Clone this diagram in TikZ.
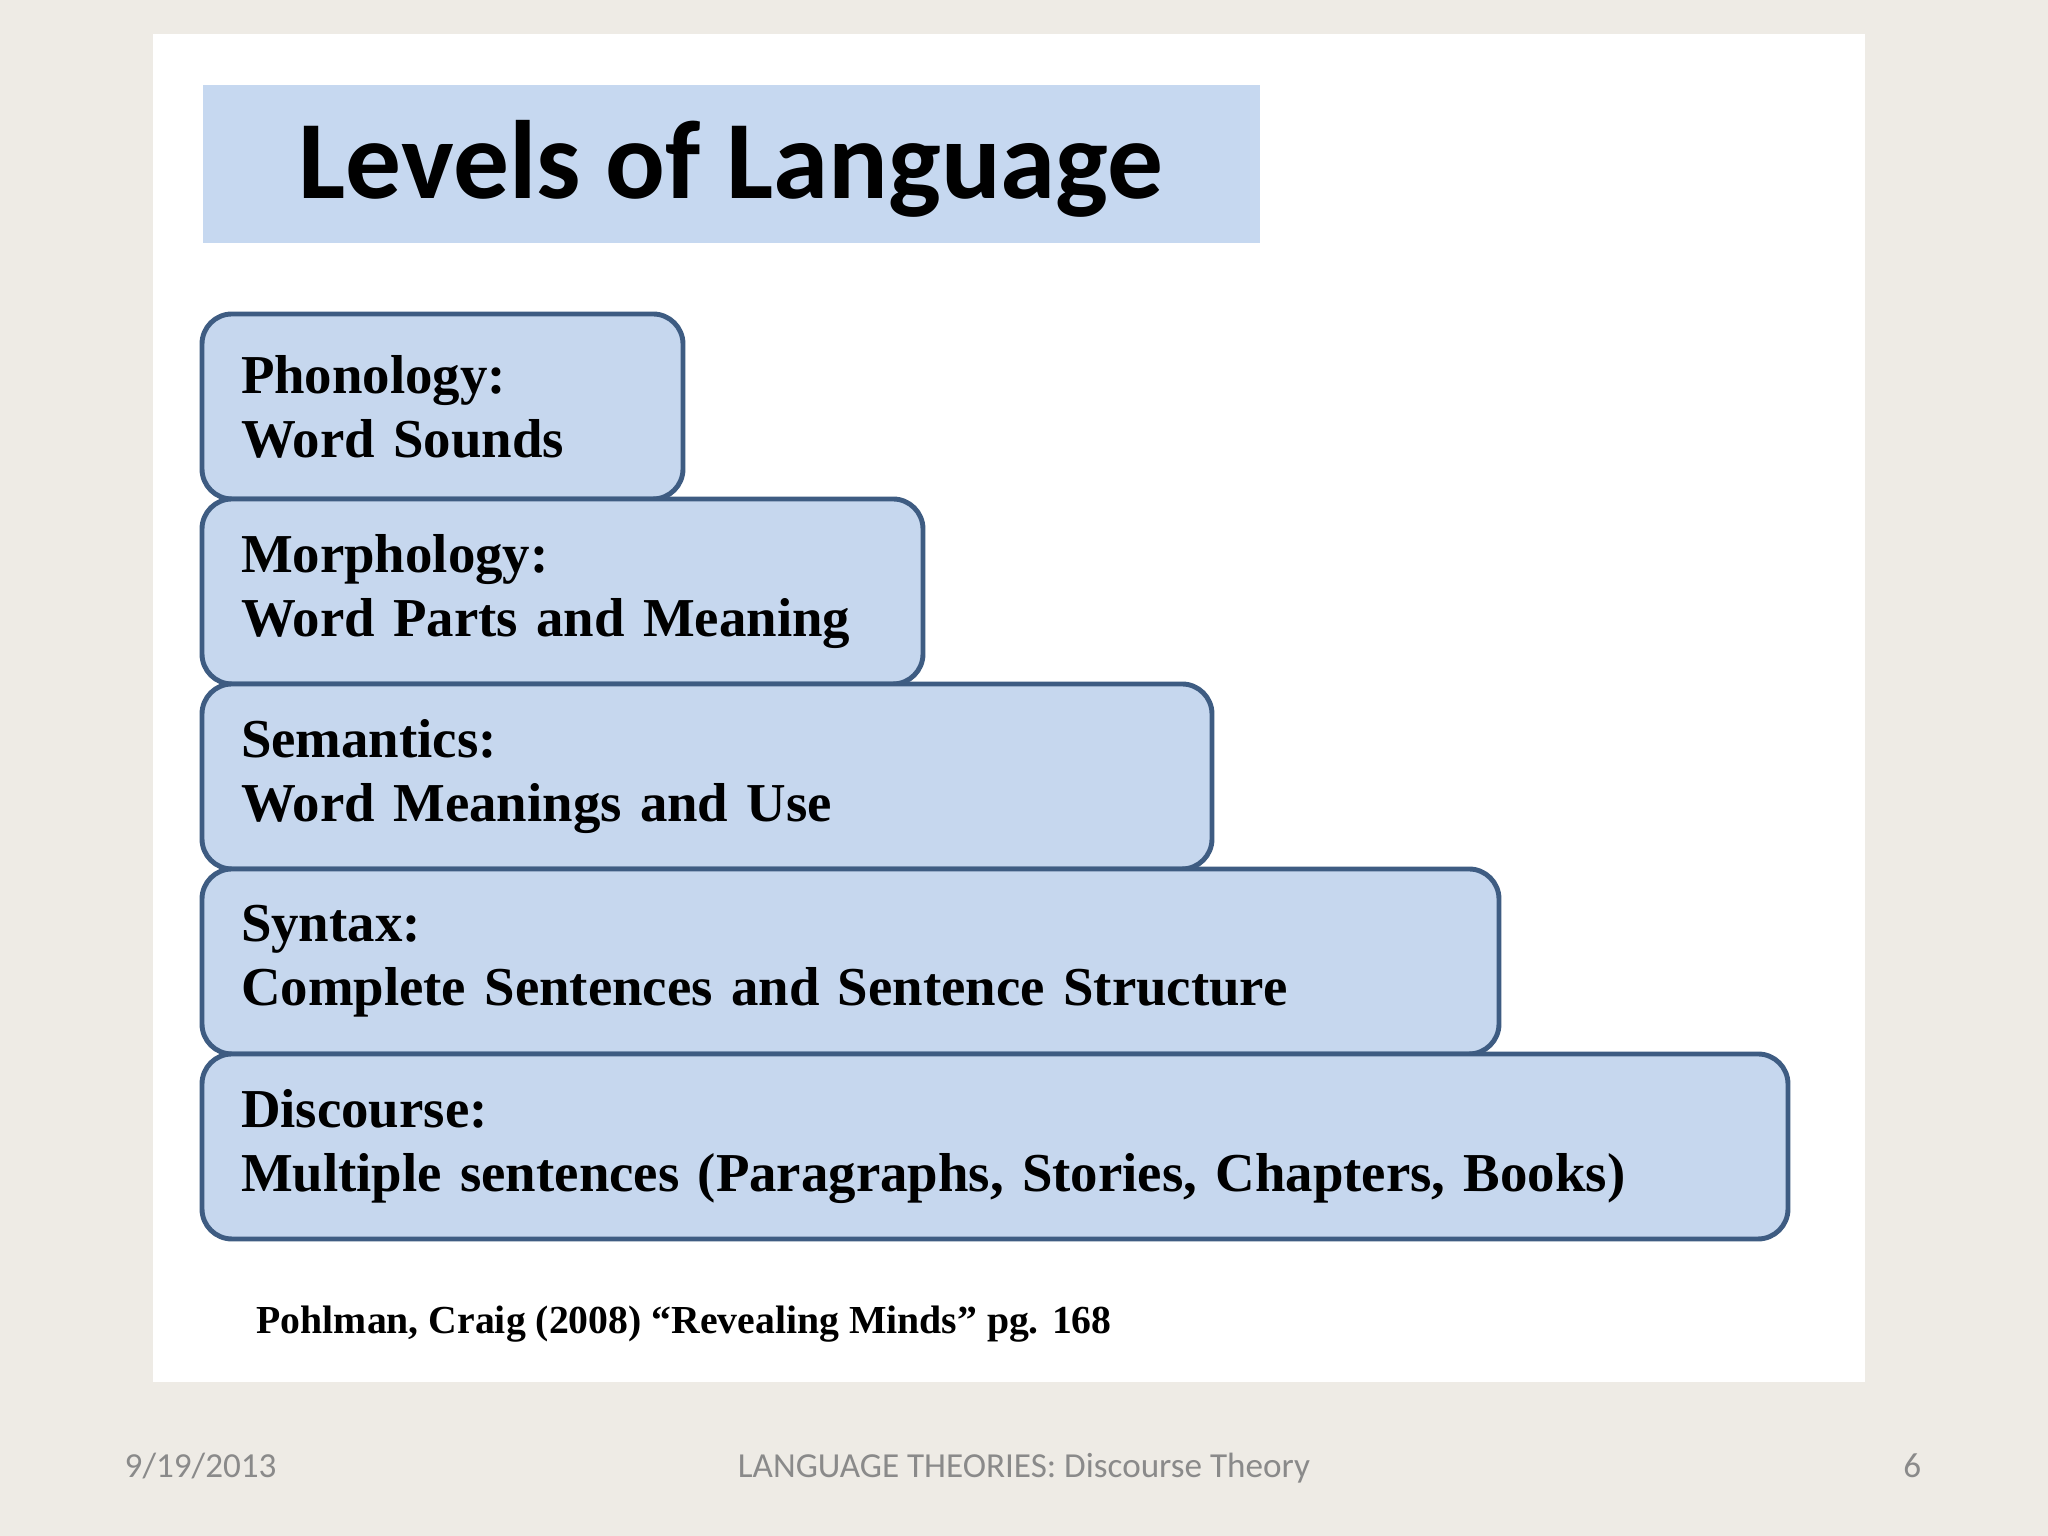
\documentclass[tikz,border=0pt]{standalone}
\usepackage{fontspec}
\setmainfont{Liberation Serif}
\newfontfamily\slidefont{Carlito}
\usepackage{tikz}
\usetikzlibrary{positioning}
\usepackage{xcolor}

\definecolor{slidebg}{HTML}{EEEBE5}
\definecolor{boxfill}{HTML}{C6D7EE}
\definecolor{boxline}{HTML}{3E5C82}
\definecolor{bandfill}{HTML}{C6D8F0}
\definecolor{footgray}{HTML}{8A8A8A}

\begin{document}
\begin{tikzpicture}[
    level/.style={rectangle, draw=boxline, fill=boxfill, line width=1.4pt, rounded corners=0.3cm,
        minimum height=1.85cm, inner xsep=0.39cm, inner ysep=0pt, outer sep=0pt, align=left,
        font=\fontsize{15.6}{18.2}\selectfont\bfseries},
    footer/.style={font=\slidefont\fontsize{10}{12}\selectfont, text=footgray, inner sep=0pt}
]

% Slide and panel
\fill[slidebg] (0,0) rectangle (20.48,15.36);
\useasboundingbox (0,0) rectangle (20.48,15.36);
\fill[white] (1.53,1.54) rectangle (18.65,15.02);

% Title
\node[fill=bandfill, minimum width=10.57cm, minimum height=1.58cm, anchor=north west,
    text height=0.9cm, text depth=0.2cm,
    font=\slidefont\fontsize{31.7}{36}\selectfont\bfseries] (title) at (2.02,14.52) {Levels of Language};

% Levels
\node[level, text width=4.03cm, anchor=north west] (phon) at (2.02,12.22) {Phonology:\\Word Sounds};
\node[level, text width=6.43cm, below=0pt of phon.south west, anchor=north west] (morph) {Morphology:\\Word Parts and Meaning};
\node[level, text width=9.32cm, below=0pt of morph.south west, anchor=north west] (sem) {Semantics:\\Word Meanings and Use};
\node[level, text width=12.19cm, below=0pt of sem.south west, anchor=north west] (syn) {Syntax:\\Complete Sentences and Sentence Structure};
\node[level, text width=15.08cm, below=0pt of syn.south west, anchor=north west] (disc) {Discourse:\\Multiple sentences (Paragraphs, Stories, Chapters, Books)};

% Source
\node[anchor=base west, inner sep=0pt, font=\fontsize{11.3}{13}\selectfont\bfseries] (source) at (2.56,2.02)
    {Pohlman, Craig (2008) “Revealing Minds” pg. 168};

% Footer
\node[footer, anchor=base west] (date) at (1.24,0.58) {9/19/2013};
\node[footer, anchor=base] (topic) at (10.24,0.58) {LANGUAGE THEORIES: Discourse Theory};
\node[footer, anchor=base east] (page) at (19.22,0.58) {6};

\end{tikzpicture}
\end{document}
